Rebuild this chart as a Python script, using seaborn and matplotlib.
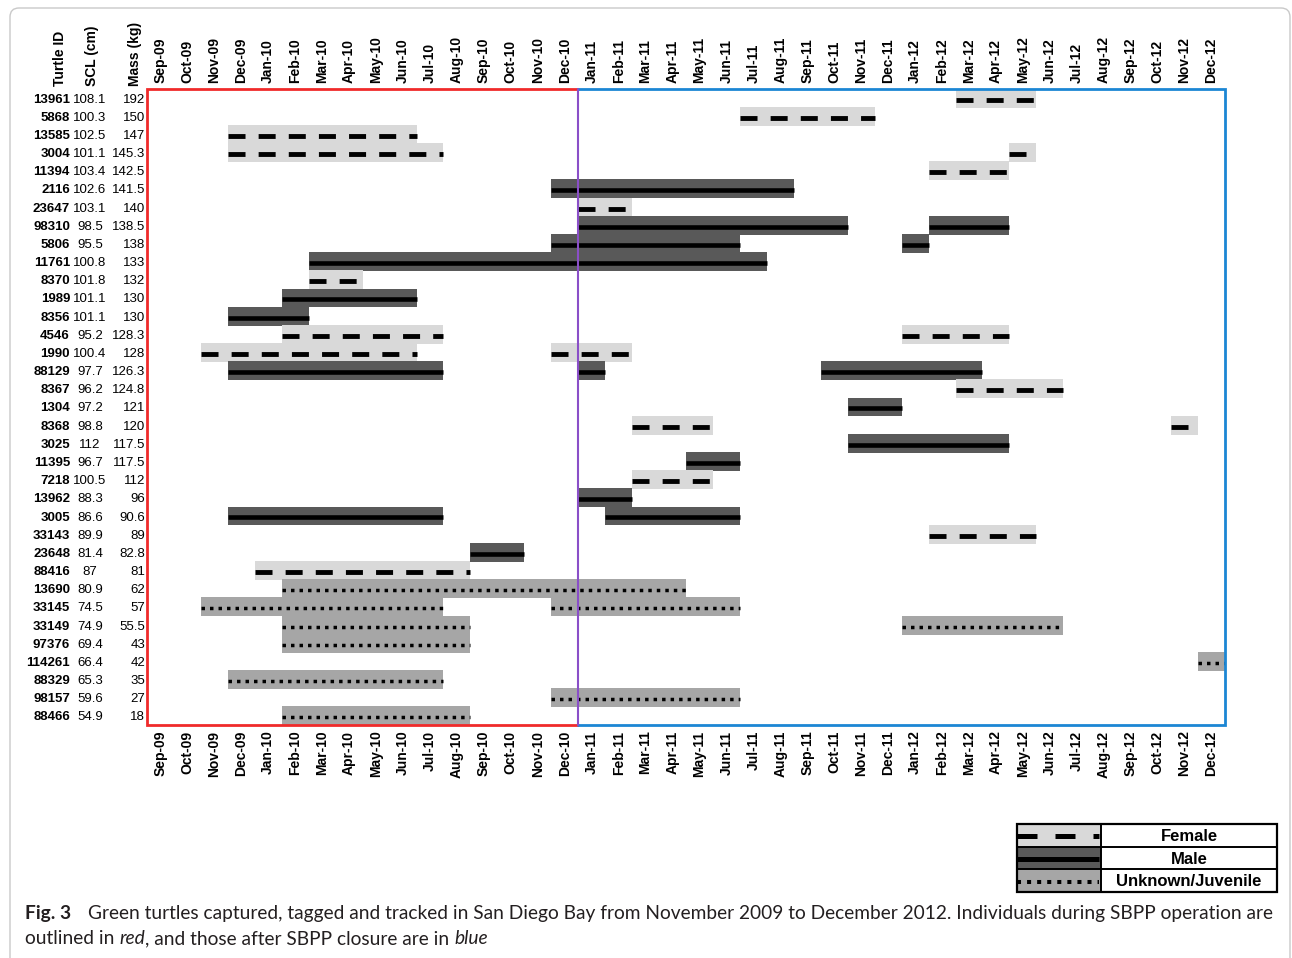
import matplotlib
matplotlib.use("Agg")
import numpy as np
import matplotlib.pyplot as plt
import matplotlib.transforms as mtransforms
from matplotlib.patches import Rectangle, FancyBboxPatch
import seaborn as sns

months = ["Sep-09", "Oct-09", "Nov-09", "Dec-09",
          "Jan-10", "Feb-10", "Mar-10", "Apr-10", "May-10", "Jun-10",
          "Jul-10", "Aug-10", "Sep-10", "Oct-10", "Nov-10", "Dec-10",
          "Jan-11", "Feb-11", "Mar-11", "Apr-11", "May-11", "Jun-11",
          "Jul-11", "Aug-11", "Sep-11", "Oct-11", "Nov-11", "Dec-11",
          "Jan-12", "Feb-12", "Mar-12", "Apr-12", "May-12", "Jun-12",
          "Jul-12", "Aug-12", "Sep-12", "Oct-12", "Nov-12", "Dec-12"]

turtle_ids = ["13961", "5868", "13585", "3004", "11394", "2116", "23647", "98310",
              "5806", "11761", "8370", "1989", "8356", "4546", "1990", "88129",
              "8367", "1304", "8368", "3025", "11395", "7218", "13962", "3005",
              "33143", "23648", "88416", "13690", "33145", "33149", "97376",
              "114261", "88329", "98157", "88466"]
scl_cm = ["108.1", "100.3", "102.5", "101.1", "103.4", "102.6", "103.1", "98.5",
          "95.5", "100.8", "101.8", "101.1", "101.1", "95.2", "100.4", "97.7",
          "96.2", "97.2", "98.8", "112", "96.7", "100.5", "88.3", "86.6",
          "89.9", "81.4", "87", "80.9", "74.5", "74.9", "69.4",
          "66.4", "65.3", "59.6", "54.9"]
mass_kg = ["192", "150", "147", "145.3", "142.5", "141.5", "140", "138.5",
           "138", "133", "132", "130", "130", "128.3", "128", "126.3",
           "124.8", "121", "120", "117.5", "117.5", "112", "96", "90.6",
           "89", "82.8", "81", "62", "57", "55.5", "43",
           "42", "35", "27", "18"]

# tracking periods: turtle, first month, last month, class (F/M/U)
seg_turtle = ["13961", "5868", "13585", "3004", "3004", "11394", "2116", "23647",
              "98310", "98310", "5806", "5806", "11761", "8370", "1989", "8356",
              "4546", "4546", "1990", "1990", "88129", "88129", "88129", "8367",
              "1304", "8368", "8368", "3025", "11395", "7218", "13962", "3005",
              "3005", "33143", "23648", "88416", "13690", "33145", "33145",
              "33149", "33149", "97376", "114261", "88329", "98157", "88466"]
seg_first = ["Mar-12", "Jul-11", "Dec-09", "Dec-09", "May-12", "Feb-12", "Dec-10", "Jan-11",
             "Jan-11", "Feb-12", "Dec-10", "Jan-12", "Mar-10", "Mar-10", "Feb-10", "Dec-09",
             "Feb-10", "Jan-12", "Nov-09", "Dec-10", "Dec-09", "Jan-11", "Oct-11", "Mar-12",
             "Nov-11", "Mar-11", "Nov-12", "Nov-11", "May-11", "Mar-11", "Jan-11", "Dec-09",
             "Feb-11", "Feb-12", "Sep-10", "Jan-10", "Feb-10", "Nov-09", "Dec-10",
             "Feb-10", "Jan-12", "Feb-10", "Dec-12", "Dec-09", "Dec-10", "Feb-10"]
seg_last = ["May-12", "Nov-11", "Jun-10", "Jul-10", "May-12", "Apr-12", "Aug-11", "Feb-11",
            "Oct-11", "Apr-12", "Jun-11", "Jan-12", "Jul-11", "Apr-10", "Jun-10", "Feb-10",
            "Jul-10", "Apr-12", "Jun-10", "Feb-11", "Jul-10", "Jan-11", "Mar-12", "Jun-12",
            "Dec-11", "May-11", "Nov-12", "Apr-12", "Jun-11", "May-11", "Feb-11", "Jul-10",
            "Jun-11", "May-12", "Oct-10", "Aug-10", "Apr-11", "Jul-10", "Jun-11",
            "Aug-10", "Jun-12", "Aug-10", "Dec-12", "Jul-10", "Jun-11", "Aug-10"]
seg_class = ["F", "F", "F", "F", "F", "F", "M", "F",
             "M", "M", "M", "M", "M", "F", "M", "M",
             "F", "F", "F", "F", "M", "M", "M", "F",
             "M", "F", "F", "M", "M", "F", "M", "M",
             "M", "F", "M", "F", "U", "U", "U",
             "U", "U", "U", "U", "U", "U", "U"]

legend_labels = ["Female", "Male", "Unknown/Juvenile"]

sns.set_theme(style="white")
plt.rcParams["font.family"] = ["Liberation Sans", "DejaVu Sans"]

W, H = 1292, 958
fig = plt.figure(figsize=(W / 100, H / 100), dpi=100, facecolor="white")

# thin rounded frame round the figure
frame = FancyBboxPatch((10, -30), 1280, 30 + H - 8, boxstyle="round,pad=0,rounding_size=9",
                       transform=mtransforms.IdentityTransform(), fill=False,
                       ec="#c9c9c9", lw=1.0)
fig.patches.append(frame)

ax = fig.add_axes([147 / W, 1 - 725 / H, (1225 - 147) / W, (725 - 89) / H])

styles = {
    "F": dict(fill="#d9d9d9", lw=3.5, ls=(0, (3.5, 2.7))),
    "M": dict(fill="#595959", lw=3.3, ls="-"),
    "U": dict(fill="#a6a6a6", lw=2.5, ls=(0, (1.0, 1.45))),
}
row_of = {t: i for i, t in enumerate(turtle_ids)}
mi = {m: i for i, m in enumerate(months)}

for t, a, b, c in zip(seg_turtle, seg_first, seg_last, seg_class):
    y = row_of[t]
    x0, x1 = mi[a], mi[b] + 1
    st = styles[c]
    ax.barh(y, x1 - x0, left=x0, height=1.04, color=st["fill"], linewidth=0, zorder=2)
    ax.plot([x0, x1], [y + 0.08, y + 0.08], color="black", lw=st["lw"], ls=st["ls"],
            dash_capstyle="butt", solid_capstyle="butt", zorder=3)

n = len(turtle_ids)
top, bot = -0.5, n - 0.5
ax.set_xlim(0, len(months))
ax.set_ylim(bot, top)
ax.set_yticks([])
ax.set_xticks(np.arange(len(months)) + 0.5)
ax.set_xticklabels(months, rotation=90, fontweight="bold", fontsize=10)
ax.tick_params(axis="x", top=True, labeltop=True, bottom=True, labelbottom=True,
               length=0, pad=4, colors="black")
sns.despine(ax=ax, left=True, bottom=True, right=True, top=True)

# SBPP operation (red) / after closure (blue)
split = mi["Jan-11"]
ax.plot([split, 0, 0, split], [top, top, bot, bot], color="#f02a2a", lw=2.0,
        clip_on=False, zorder=5, solid_joinstyle="miter")
ax.plot([split, len(months), len(months), split], [top, top, bot, bot], color="#1c86d4",
        lw=2.0, clip_on=False, zorder=5, solid_joinstyle="miter")
ax.plot([split, split], [top, bot], color="#8a4fc8", lw=1.5, clip_on=False, zorder=6)

# left-hand table
tr = mtransforms.blended_transform_factory(fig.transFigure, ax.transData)
for i, (tid, s, m) in enumerate(zip(turtle_ids, scl_cm, mass_kg)):
    ax.text(70 / W, i, tid, transform=tr, ha="right", va="center_baseline",
            fontweight="bold", fontsize=9.5, color="black")
    ax.text(90 / W, i, s, transform=tr, ha="center", va="center_baseline",
            fontsize=9.5, color="black")
    ax.text(145 / W, i, m, transform=tr, ha="right", va="center_baseline",
            fontsize=9.5, color="black")

for xp, lab in [(60, "Turtle ID"), (92, "SCL (cm)"), (135, "Mass (kg)")]:
    fig.text(xp / W, 1 - 86 / H, lab, rotation=90, ha="center", va="bottom",
             fontweight="bold", fontsize=10, color="black")

# legend table
lax = fig.add_axes([1017 / W, 1 - 892 / H, 260 / W, 68 / H])
lax.set_xlim(0, 260)
lax.set_ylim(3, 0)
lax.axis("off")
leg_styles = {
    "F": dict(lw=3.6, ls=(0, (4.0, 3.6))),
    "M": dict(lw=3.6, ls="-"),
    "U": dict(lw=2.9, ls=(0, (1.0, 1.5))),
}
for k, c in enumerate(["F", "M", "U"]):
    lax.add_patch(Rectangle((0, k), 84, 1, color=styles[c]["fill"], lw=0))
    lax.plot([0, 82], [k + 0.55, k + 0.55], color="black", lw=leg_styles[c]["lw"],
             ls=leg_styles[c]["ls"], dash_capstyle="butt", solid_capstyle="butt")
    lax.text(172, k + 0.55, legend_labels[k], ha="center", va="center",
             fontweight="bold", fontsize=12, color="black")
lax.add_patch(Rectangle((0, 0), 260, 3, fill=False, ec="black", lw=1.6, clip_on=False))
lax.plot([84, 84], [0, 3], color="black", lw=1.4)
for yy in [1, 2]:
    lax.plot([0, 260], [yy, yy], color="black", lw=1.4)

# caption
cap_font = ["Lato", "DejaVu Sans"]
r = fig.canvas.get_renderer()


def text_w(s, size, **kw):
    t = fig.text(0, 0, s, fontsize=size, family=cap_font, **kw)
    w = t.get_window_extent(r).width
    t.remove()
    return w


line1 = ("Green turtles captured, tagged and tracked in San Diego Bay from November 2009 "
         "to December 2012. Individuals during SBPP operation are")
cap_size = 10 * (1277 - 88) / text_w(line1, 10)
cap_col = "#231f20"

fig.text(25 / W, 1 - 919 / H, "Fig. 3", fontsize=cap_size, family=cap_font,
         fontweight="bold", color=cap_col, va="baseline")
fig.text(88 / W, 1 - 919 / H, line1, fontsize=cap_size, family=cap_font,
         color=cap_col, va="baseline")

space = text_w("x x", cap_size) - text_w("xx", cap_size)
runs = [("outlined in", "normal", False), ("red", "italic", True),
        (", and those after SBPP closure are in", "normal", False), ("blue", "italic", True)]
x = 25
for txt, style, gap in runs:
    if gap:
        x += space
    fig.text(x / W, 1 - 944 / H, txt, fontsize=cap_size, family=cap_font,
             fontstyle=style, color=cap_col, va="baseline")
    x += text_w(txt, cap_size, fontstyle=style)

fig.savefig("out.png", dpi=100, facecolor="white")
